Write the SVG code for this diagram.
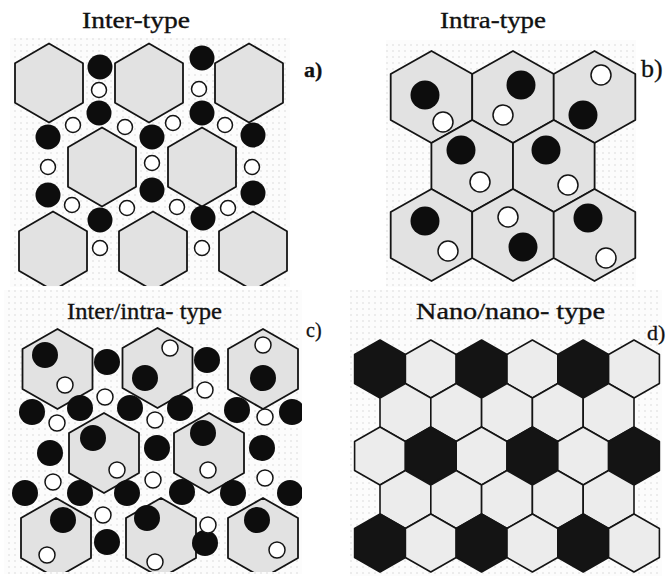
<svg xmlns="http://www.w3.org/2000/svg" xmlns:xlink="http://www.w3.org/1999/xlink" width="667" height="576" viewBox="0 0 667 576">
  <style>
    .title { font-family: "Liberation Serif", "Times New Roman", serif; font-size: 24px; fill: #111; stroke: #111; stroke-width: 0.35; }
    .tag { font-family: "Liberation Serif", "Times New Roman", serif; fill: #111; stroke: #111; stroke-width: 0.3; }
    .grain { stroke: #141414; stroke-width: 1.8; stroke-linejoin: round; fill: #e2e2e2; }
    .big { fill: #0d0d0d; }
    .small { fill: #ffffff; stroke: #141414; stroke-width: 1.5; }
    .dark { fill: #141414; stroke: #141414; stroke-width: 1.6; stroke-linejoin: round; }
    .light { fill: #ececec; stroke: #141414; stroke-width: 1.6; stroke-linejoin: round; }
  </style>
  <defs>
    <pattern id="dots" width="6" height="6" patternUnits="userSpaceOnUse">
      <rect width="6" height="6" fill="#fcfcfc"/>
      <circle cx="3" cy="3" r="0.7" fill="#d2d2d2"/>
    </pattern>
    <!-- pointy-top hexagons, centred on the origin -->
    <polygon id="hexA" points="0,-39.5 34,-19.75 34,19.75 0,39.5 -34,19.75 -34,-19.75"/>
    <polygon id="hexB" points="0,-46 40.8,-23 40.8,23 0,46 -40.8,23 -40.8,-23"/>
    <polygon id="hexC" points="0,-40 35,-20 35,20 0,40 -35,20 -35,-20"/>
    <polygon id="hexD" points="0,-29 25.4,-14.5 25.4,14.5 0,29 -25.4,14.5 -25.4,-14.5"/>
    <clipPath id="clipA"><rect x="8" y="38" width="284" height="248"/></clipPath>
    <clipPath id="clipC"><rect x="4" y="290" width="298" height="282"/></clipPath>
  </defs>

  <rect width="667" height="576" fill="#ffffff"/>

  <!-- a) inter-type: particles between the grains -->
  <g id="panel-a">
    <rect x="10" y="38" width="280" height="249" fill="url(#dots)"/>
    <text class="title" x="82" y="28" textLength="108" lengthAdjust="spacingAndGlyphs">Inter-type</text>
    <text class="tag" x="304" y="77" font-size="22" font-weight="bold">a)</text>
    <g clip-path="url(#clipA)">
      <g class="grain">
        <use xlink:href="#hexA" x="49" y="83"/>
        <use xlink:href="#hexA" x="149" y="83"/>
        <use xlink:href="#hexA" x="249" y="83"/>
        <use xlink:href="#hexA" x="102" y="167"/>
        <use xlink:href="#hexA" x="202" y="167"/>
        <use xlink:href="#hexA" x="53" y="251"/>
        <use xlink:href="#hexA" x="153" y="251"/>
        <use xlink:href="#hexA" x="253" y="251"/>
      </g>
      <g class="big">
        <circle cx="100" cy="67" r="12.5"/>
        <circle cx="202" cy="58" r="12.5"/>
        <circle cx="99" cy="113" r="12.5"/>
        <circle cx="202" cy="113" r="12.5"/>
        <circle cx="48" cy="137" r="12.5"/>
        <circle cx="152" cy="137" r="12.5"/>
        <circle cx="253" cy="135" r="12.5"/>
        <circle cx="48" cy="195" r="12.5"/>
        <circle cx="152" cy="190" r="12.5"/>
        <circle cx="253" cy="193" r="12.5"/>
        <circle cx="100" cy="220" r="12.5"/>
        <circle cx="203" cy="218" r="12.5"/>
      </g>
      <g class="small">
        <circle cx="99" cy="90" r="7.5"/>
        <circle cx="199" cy="89" r="7.5"/>
        <circle cx="73" cy="125" r="7.5"/>
        <circle cx="125" cy="127" r="7.5"/>
        <circle cx="173" cy="123" r="7.5"/>
        <circle cx="225" cy="125" r="7.5"/>
        <circle cx="48" cy="167" r="7.5"/>
        <circle cx="152" cy="163" r="7.5"/>
        <circle cx="252" cy="167" r="7.5"/>
        <circle cx="72" cy="205" r="7.5"/>
        <circle cx="127" cy="208" r="7.5"/>
        <circle cx="177" cy="207" r="7.5"/>
        <circle cx="228" cy="208" r="7.5"/>
        <circle cx="100" cy="248" r="7.5"/>
        <circle cx="202" cy="248" r="7.5"/>
      </g>
    </g>
  </g>

  <!-- b) intra-type: particles inside the grains -->
  <g id="panel-b">
    <rect x="386" y="40" width="250" height="247" fill="url(#dots)"/>
    <text class="title" x="440" y="28" textLength="106" lengthAdjust="spacingAndGlyphs">Intra-type</text>
    <text class="tag" x="641" y="77" font-size="26">b)</text>
    <g class="grain">
      <use xlink:href="#hexB" x="431.5" y="97"/>
      <use xlink:href="#hexB" x="513" y="97"/>
      <use xlink:href="#hexB" x="594.5" y="97"/>
      <use xlink:href="#hexB" x="472.2" y="166"/>
      <use xlink:href="#hexB" x="553.8" y="166"/>
      <use xlink:href="#hexB" x="431.5" y="235"/>
      <use xlink:href="#hexB" x="513" y="235"/>
      <use xlink:href="#hexB" x="594.5" y="235"/>
    </g>
    <g class="big">
      <circle cx="425" cy="95" r="14.5"/>
      <circle cx="521" cy="85" r="14.5"/>
      <circle cx="583" cy="115" r="14.5"/>
      <circle cx="461" cy="150" r="14.5"/>
      <circle cx="546" cy="150" r="14.5"/>
      <circle cx="425" cy="221" r="14.5"/>
      <circle cx="523" cy="247" r="14.5"/>
      <circle cx="588" cy="218" r="14.5"/>
    </g>
    <g class="small">
      <circle cx="443" cy="122" r="10"/>
      <circle cx="503" cy="115" r="10"/>
      <circle cx="601" cy="75" r="10"/>
      <circle cx="480" cy="182" r="10"/>
      <circle cx="568" cy="185" r="10"/>
      <circle cx="448" cy="251" r="10"/>
      <circle cx="508" cy="217" r="10"/>
      <circle cx="606" cy="258" r="10"/>
    </g>
  </g>

  <!-- c) inter/intra-type: particles both inside and between the grains -->
  <g id="panel-c">
    <rect x="4" y="290" width="298" height="284" fill="url(#dots)"/>
    <text class="title" x="67" y="319" textLength="155" lengthAdjust="spacingAndGlyphs">Inter/intra- type</text>
    <text class="tag" x="306" y="337" font-size="20">c)</text>
    <g clip-path="url(#clipC)">
      <g class="grain">
        <use xlink:href="#hexC" x="57.5" y="369"/>
        <use xlink:href="#hexC" x="157.5" y="368"/>
        <use xlink:href="#hexC" x="263" y="369"/>
        <use xlink:href="#hexC" x="104" y="453"/>
        <use xlink:href="#hexC" x="209" y="453"/>
        <use xlink:href="#hexC" x="56" y="538"/>
        <use xlink:href="#hexC" x="161" y="538"/>
        <use xlink:href="#hexC" x="263" y="538"/>
      </g>
      <g class="big">
        <!-- inside the grains -->
        <circle cx="45" cy="355" r="13"/>
        <circle cx="145" cy="378" r="13"/>
        <circle cx="263" cy="378" r="13"/>
        <circle cx="93" cy="438" r="13"/>
        <circle cx="203" cy="433" r="13"/>
        <circle cx="63" cy="520" r="13"/>
        <circle cx="147" cy="518" r="13"/>
        <circle cx="257" cy="520" r="13"/>
        <!-- between the grains -->
        <circle cx="107" cy="362" r="13"/>
        <circle cx="207" cy="360" r="13"/>
        <circle cx="32" cy="412" r="13"/>
        <circle cx="80" cy="408" r="13"/>
        <circle cx="130" cy="408" r="13"/>
        <circle cx="180" cy="408" r="13"/>
        <circle cx="237" cy="410" r="13"/>
        <circle cx="292" cy="412" r="13"/>
        <circle cx="50" cy="453" r="13"/>
        <circle cx="157" cy="448" r="13"/>
        <circle cx="262" cy="448" r="13"/>
        <circle cx="25" cy="493" r="13"/>
        <circle cx="80" cy="493" r="13"/>
        <circle cx="127" cy="493" r="13"/>
        <circle cx="182" cy="492" r="13"/>
        <circle cx="233" cy="493" r="13"/>
        <circle cx="290" cy="493" r="13"/>
        <circle cx="107" cy="542" r="13"/>
        <circle cx="205" cy="543" r="13"/>
      </g>
      <g class="small">
        <circle cx="65" cy="385" r="8"/>
        <circle cx="170" cy="348" r="8"/>
        <circle cx="263" cy="345" r="8"/>
        <circle cx="117" cy="470" r="8"/>
        <circle cx="208" cy="470" r="8"/>
        <circle cx="47" cy="555" r="8"/>
        <circle cx="155" cy="562" r="8"/>
        <circle cx="277" cy="550" r="8"/>
        <circle cx="105" cy="397" r="8"/>
        <circle cx="205" cy="390" r="8"/>
        <circle cx="57" cy="423" r="8"/>
        <circle cx="155" cy="420" r="8"/>
        <circle cx="265" cy="417" r="8"/>
        <circle cx="53" cy="482" r="8"/>
        <circle cx="153" cy="480" r="8"/>
        <circle cx="265" cy="478" r="8"/>
        <circle cx="103" cy="515" r="8"/>
        <circle cx="208" cy="525" r="8"/>
      </g>
    </g>
  </g>

  <!-- d) nano/nano-type: two kinds of nano grains tiled together -->
  <g id="panel-d">
    <rect x="350" y="290" width="312" height="286" fill="url(#dots)"/>
    <text class="title" x="416" y="319" textLength="189" lengthAdjust="spacingAndGlyphs">Nano/nano- type</text>
    <text class="tag" x="647" y="340" font-size="22">d)</text>
    <!-- row 1 -->
    <use class="dark" xlink:href="#hexD" x="380" y="369"/>
    <use class="light" xlink:href="#hexD" x="430.8" y="369"/>
    <use class="dark" xlink:href="#hexD" x="481.6" y="369"/>
    <use class="light" xlink:href="#hexD" x="532.4" y="369"/>
    <use class="dark" xlink:href="#hexD" x="583.2" y="369"/>
    <use class="light" xlink:href="#hexD" x="634" y="369"/>
    <!-- row 2 -->
    <use class="light" xlink:href="#hexD" x="405.4" y="412.5"/>
    <use class="light" xlink:href="#hexD" x="456.2" y="412.5"/>
    <use class="light" xlink:href="#hexD" x="507" y="412.5"/>
    <use class="light" xlink:href="#hexD" x="557.8" y="412.5"/>
    <use class="light" xlink:href="#hexD" x="608.6" y="412.5"/>
    <!-- row 3 -->
    <use class="light" xlink:href="#hexD" x="380" y="456"/>
    <use class="dark" xlink:href="#hexD" x="430.8" y="456"/>
    <use class="light" xlink:href="#hexD" x="481.6" y="456"/>
    <use class="dark" xlink:href="#hexD" x="532.4" y="456"/>
    <use class="light" xlink:href="#hexD" x="583.2" y="456"/>
    <use class="dark" xlink:href="#hexD" x="634" y="456"/>
    <!-- row 4 -->
    <use class="light" xlink:href="#hexD" x="405.4" y="499.5"/>
    <use class="light" xlink:href="#hexD" x="456.2" y="499.5"/>
    <use class="light" xlink:href="#hexD" x="507" y="499.5"/>
    <use class="light" xlink:href="#hexD" x="557.8" y="499.5"/>
    <use class="light" xlink:href="#hexD" x="608.6" y="499.5"/>
    <!-- row 5 -->
    <use class="dark" xlink:href="#hexD" x="380" y="543"/>
    <use class="light" xlink:href="#hexD" x="430.8" y="543"/>
    <use class="dark" xlink:href="#hexD" x="481.6" y="543"/>
    <use class="light" xlink:href="#hexD" x="532.4" y="543"/>
    <use class="dark" xlink:href="#hexD" x="583.2" y="543"/>
    <use class="light" xlink:href="#hexD" x="634" y="543"/>
  </g>
</svg>
